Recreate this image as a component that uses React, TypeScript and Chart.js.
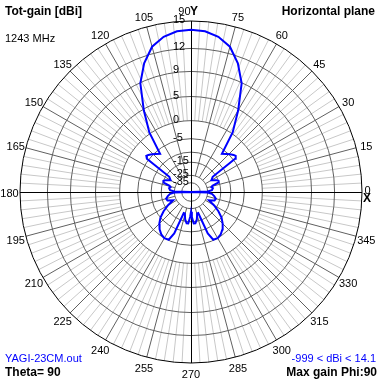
import React, { useEffect, useRef } from "react";
import { Chart, registerables } from "chart.js";
Chart.register(...registerables);

// ---- data ----
const phiDeg = [
  0, 2, 5, 10, 13, 16, 19, 22, 25, 30, 35, 37, 39, 41, 44, 47, 51, 55, 60, 65, 70, 75, 80, 85,
  90, 95, 100, 105, 110, 115, 120, 125, 129, 133, 136, 139, 141, 143, 145, 150, 155, 158, 161,
  164, 167, 170, 175, 178, 180, 182, 185, 190, 195, 200, 205, 210, 215, 220, 225, 230, 235, 240,
  245, 248, 251, 254, 258, 262, 265, 268, 270, 272, 275, 278, 282, 286, 289, 292, 295, 300, 305,
  310, 315, 320, 325, 330, 335, 340, 345, 350, 355, 358, 360,
];
const gainDbi = [
  -999, -25, -21, -20, -21, -20, -15.5, -15, -16, -19, -17, -4.4, -3.7, -4.0, -4.7, -5.4, -6.4,
  0.3, 4.8, 8.9, 11.2, 12.8, 13.6, 14.0,
  14.1, 14.0, 13.6, 12.8, 11.2, 8.9, 4.8, 0.3, -6.4, -5.4, -4.7, -4.0, -3.7, -4.4, -17, -19, -16,
  -15, -15.5, -20, -21, -20, -21, -25, -999, -25, -21, -19, -17.5, -18, -22, -17, -13, -10, -8,
  -6.5, -5.5, -5.0, -5.2, -8, -20, -20, -16, -14, -14, -18, -22, -18, -14, -14, -16, -20, -20,
  -8, -5.2, -5.0, -5.5, -6.5, -8, -10, -13, -17, -22, -18, -17.5, -19, -21, -25, -999,
];
const gainTop = 15;
const ringValues = [15, 12, 9, 5, 0, -5, -10, -15, -25, -35];
const ringLabelValues = [15, 12, 9, 5, 0, -5, -15, -25, -35];
const angleTickLabels = [
  "0", "15", "30", "45", "60", "75", "90", "105", "120", "135", "150", "165",
  "180", "195", "210", "225", "240", "255", "270", "285", "300", "315", "330", "345",
];
const titleLeft = "Tot-gain [dBi]";
const freqText = "1243 MHz";
const titleRight = "Horizontal plane";
const fileText = "YAGI-23CM.out";
const thetaText = "Theta= 90";
const rangeText = "-999 < dBi < 14.1";
const maxGainText = "Max gain Phi:90";

// ARRL log scale: factor 0.89 per 2 dB
const rho = (g: number) => Math.pow(0.89, (gainTop - g) / 2);

const FONT = '"Liberation Sans", Arial, sans-serif';

const gridPlugin = {
  id: "polarGrid",
  beforeDatasetsDraw(chart: any) {
    const ctx = chart.ctx;
    const xs = chart.scales.x;
    const ys = chart.scales.y;
    const cx = xs.getPixelForValue(0);
    const cy = ys.getPixelForValue(0);
    const R = xs.getPixelForValue(1) - cx;
    ctx.save();
    ctx.lineWidth = 1;
    // light spokes every 3 degrees
    ctx.strokeStyle = "#c8c8c8";
    const rLight = rho(0) * R;
    for (let a = 0; a < 360; a += 3) {
      if (a % 15 === 0) continue;
      const t = (a * Math.PI) / 180;
      ctx.beginPath();
      ctx.moveTo(cx + rLight * Math.cos(t), cy - rLight * Math.sin(t));
      ctx.lineTo(cx + R * Math.cos(t), cy - R * Math.sin(t));
      ctx.stroke();
    }
    // dark spokes every 15 degrees
    ctx.strokeStyle = "#606060";
    const rDark = rho(-25) * R;
    for (let a = 0; a < 360; a += 15) {
      if (a % 90 === 0) continue;
      const t = (a * Math.PI) / 180;
      ctx.beginPath();
      ctx.moveTo(cx + rDark * Math.cos(t), cy - rDark * Math.sin(t));
      ctx.lineTo(cx + R * Math.cos(t), cy - R * Math.sin(t));
      ctx.stroke();
    }
    // rings
    ringValues.forEach((v) => {
      const r = rho(v) * R;
      ctx.strokeStyle = v === gainTop ? "#000000" : "#606060";
      ctx.beginPath();
      ctx.arc(cx, cy, r, 0, Math.PI * 2);
      ctx.stroke();
    });
    // axes
    ctx.strokeStyle = "#000000";
    ctx.beginPath();
    ctx.moveTo(cx - R, cy + 0.5);
    ctx.lineTo(cx + R, cy + 0.5);
    ctx.moveTo(cx + 0.5, cy - R);
    ctx.lineTo(cx + 0.5, cy + R);
    ctx.stroke();
    // ring labels
    ctx.fillStyle = "#000000";
    ctx.font = `11px ${FONT}`;
    ctx.textAlign = "left";
    ctx.textBaseline = "middle";
    ringLabelValues.forEach((v) => {
      const r = rho(v) * R;
      ctx.fillText(String(v), cx - 18, cy - r - 1);
    });
    ctx.restore();
  },
  afterDraw(chart: any) {
    const ctx = chart.ctx;
    const xs = chart.scales.x;
    const ys = chart.scales.y;
    const cx = xs.getPixelForValue(0);
    const cy = ys.getPixelForValue(0);
    const R = xs.getPixelForValue(1) - cx;
    ctx.save();
    ctx.fillStyle = "#000000";
    ctx.font = `11px ${FONT}`;
    ctx.textAlign = "center";
    ctx.textBaseline = "middle";
    const rl = R + 10.5;
    const cyl = cy + 1.5;
    angleTickLabels.forEach((lab, i) => {
      const a = i * 15;
      const t = (a * Math.PI) / 180;
      let x = cx + rl * Math.cos(t);
      const y = cyl - rl * Math.sin(t);
      if (a === 0) {
        ctx.fillText(lab, x - 5, y - 3);
        return;
      }
      if (a === 90) {
        ctx.textAlign = "right";
        ctx.fillText(lab, cx - 0.5, y);
        ctx.textAlign = "center";
        return;
      }
      ctx.fillText(lab, x, y);
    });
    // axis names
    ctx.font = `bold 12px ${FONT}`;
    ctx.textAlign = "left";
    ctx.fillText("Y", cx - 1, cyl - rl);
    ctx.textAlign = "center";
    ctx.fillText("X", cx + R + 5, cy + 7);

    // titles
    ctx.textBaseline = "middle";
    ctx.textAlign = "left";
    ctx.font = `bold 12px ${FONT}`;
    ctx.fillText(titleLeft, 5, 12);
    ctx.font = `11px ${FONT}`;
    ctx.fillText(freqText, 5, 39);
    ctx.font = `bold 12px ${FONT}`;
    ctx.textAlign = "right";
    ctx.fillText(titleRight, 375, 12);
    // bottom
    ctx.textAlign = "left";
    ctx.fillStyle = "#0000ff";
    ctx.font = `11px ${FONT}`;
    ctx.fillText(fileText, 5, 359);
    ctx.textAlign = "right";
    ctx.fillText(rangeText, 376, 359);
    ctx.fillStyle = "#000000";
    ctx.font = `bold 12px ${FONT}`;
    ctx.textAlign = "left";
    ctx.fillText(thetaText, 5, 373);
    ctx.textAlign = "right";
    ctx.fillText(maxGainText, 377, 373);
    ctx.restore();
  },
};

export default function App() {
  const ref = useRef<HTMLCanvasElement | null>(null);
  useEffect(() => {
    document.body.style.margin = "0";
    document.body.style.background = "#ffffff";
    const canvas = ref.current;
    if (!canvas) return;
    const pts = phiDeg.map((p, i) => {
      const r = rho(gainDbi[i]);
      const t = (p * Math.PI) / 180;
      return { x: r * Math.cos(t), y: r * Math.sin(t) };
    });
    const chart = new Chart(canvas, {
      type: "scatter",
      data: {
        datasets: [
          {
            data: pts,
            showLine: true,
            borderColor: "#0000ff",
            borderWidth: 2,
            pointRadius: 0,
            fill: false,
            tension: 0,
          },
        ],
      },
      options: {
        animation: false,
        responsive: false,
        devicePixelRatio: 1,
        layout: { padding: { left: 20, right: 20, top: 21, bottom: 19 } },
        plugins: { legend: { display: false }, tooltip: { enabled: false } },
        scales: {
          x: { type: "linear", min: -1, max: 1, display: false },
          y: { type: "linear", min: -1, max: 1, display: false },
        },
      },
      plugins: [gridPlugin],
    });
    return () => chart.destroy();
  }, []);
  return (
    <div style={{ width: 382, height: 382, background: "#ffffff" }}>
      <canvas ref={ref} width={382} height={382} style={{ display: "block" }} />
    </div>
  );
}
